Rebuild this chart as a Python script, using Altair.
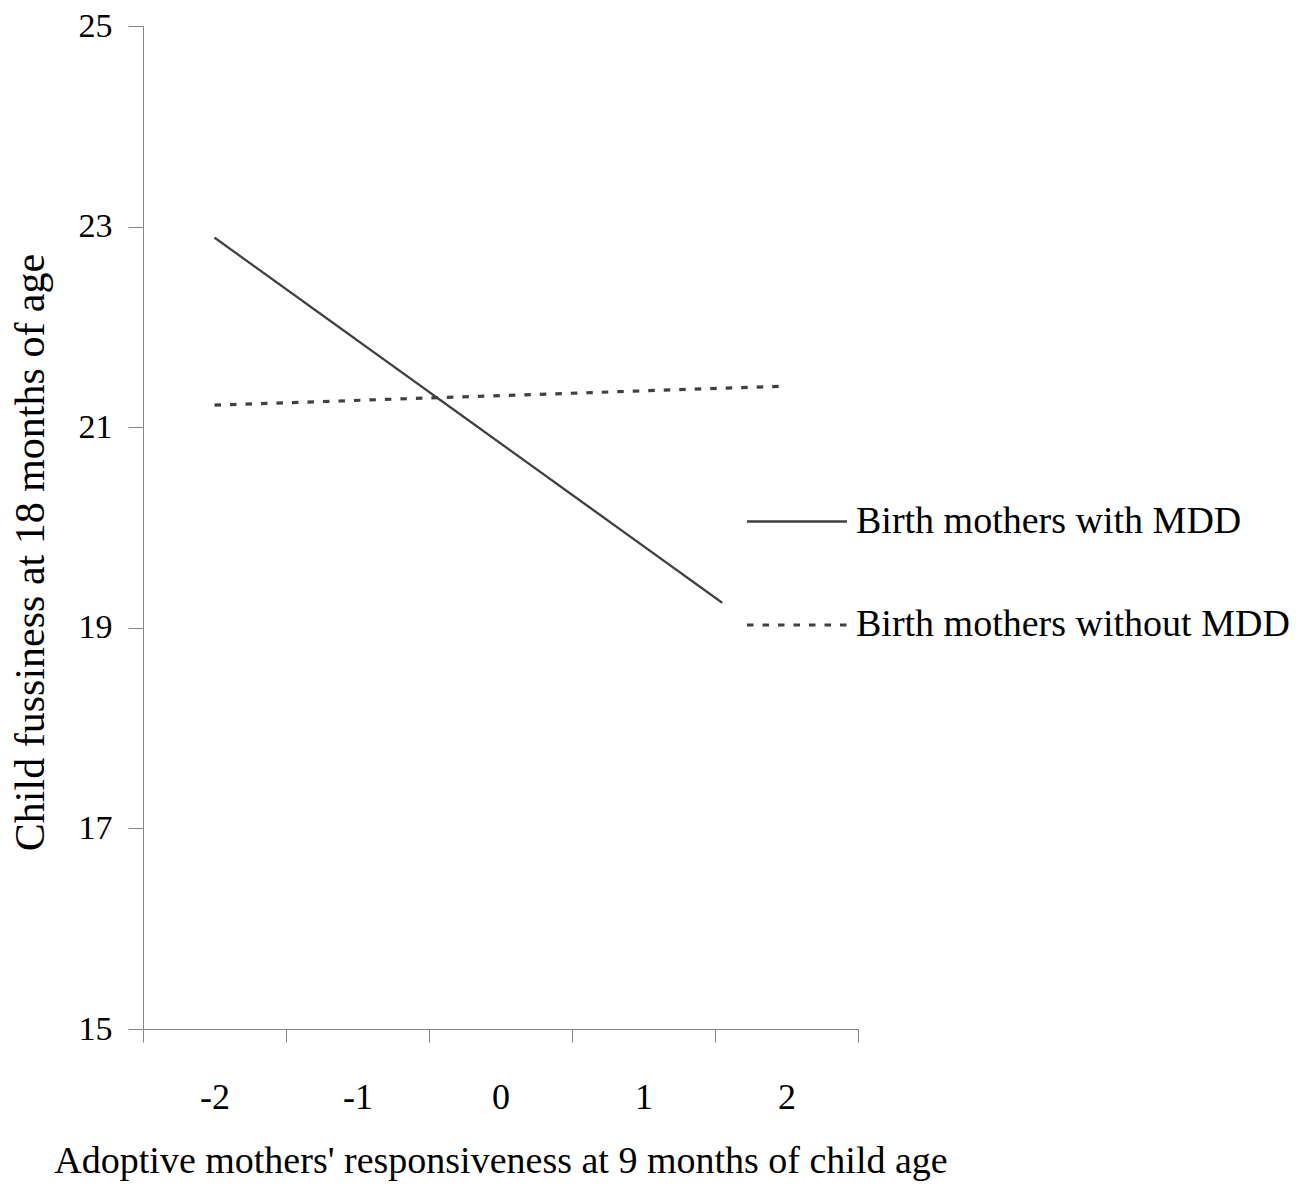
import altair as alt
import pandas as pd

# ---- data ----
series_names = ["Birth mothers with MDD", "Birth mothers without MDD"]
mdd_x = [-2.0, 1.55]
mdd_y = [22.89, 19.25]
no_mdd_x = [-2.0, 2.0]
no_mdd_y = [21.22, 21.41]

x_tick_values = [-2.5, -2, -1.5, -1, -0.5, 0, 0.5, 1, 1.5, 2, 2.5]
y_tick_values = [15, 17, 19, 21, 23, 25]

x_title = "Adoptive mothers' responsiveness at 9 months of child age"
y_title = "Child fussiness at 18 months of age"

df = pd.concat([
    pd.DataFrame({"x": mdd_x, "y": mdd_y, "series": series_names[0]}),
    pd.DataFrame({"x": no_mdd_x, "y": no_mdd_y, "series": series_names[1]}),
], ignore_index=True)

FONT = "Liberation Serif"
LINE = "#404040"
AXIS = "#858585"

half_test = "abs(datum.value % 1) == 0.5"

chart = alt.Chart(df).mark_line(color=LINE).encode(
    x=alt.X(
        "x:Q",
        scale=alt.Scale(domain=[-2.5, 2.5], nice=False, zero=False),
        axis=alt.Axis(
            values=x_tick_values,
            title=x_title,
            labelExpr=f"{half_test} ? '' : toString(datum.value)",
            tickOpacity={"condition": {"test": half_test, "value": 1}, "value": 0},
            tickSize=13,
            tickColor=AXIS,
            domainColor=AXIS,
            grid=False,
            labelFont=FONT,
            labelFontSize=36,
            labelColor="black",
            labelPadding=38,
            labelFlush=False,
            labelOverlap=False,
            titleFont=FONT,
            titleFontSize=38,
            titleFontWeight="normal",
            titleColor="black",
            titlePadding=27,
        ),
    ),
    y=alt.Y(
        "y:Q",
        scale=alt.Scale(domain=[15, 25], nice=False, zero=False),
        axis=alt.Axis(
            values=y_tick_values,
            title=y_title,
            tickSize=15,
            tickColor=AXIS,
            domainColor=AXIS,
            grid=False,
            labelFont=FONT,
            labelFontSize=34,
            labelColor="black",
            labelPadding=16,
            labelFlush=False,
            titleFont=FONT,
            titleFontSize=42,
            titleFontWeight="normal",
            titleColor="black",
            titlePadding=26,
            titleY=526,
        ),
    ),
    strokeDash=alt.StrokeDash(
        "series:N",
        scale=alt.Scale(domain=series_names, range=[[1, 0], [6.5, 9]]),
        legend=alt.Legend(
            orient="none",
            legendX=602,
            legendY=444,
            title=None,
            padding=0,
            symbolType="stroke",
            symbolSize=10000,
            symbolStrokeWidth=2.8,
            symbolStrokeColor=LINE,
            labelFont=FONT,
            labelFontSize=38,
            labelColor="black",
            labelOffset=7,
            rowPadding=32,
            labelLimit=600,
        ),
    ),
    strokeWidth=alt.StrokeWidth(
        "series:N",
        scale=alt.Scale(domain=series_names, range=[2.3, 3.2]),
        legend=None,
    ),
).properties(
    width=715,
    height=1003,
    autosize=alt.AutoSizeParams(type="none"),
    padding={"left": 135, "top": 18, "right": 445, "bottom": 155},
).configure_view(stroke=None)

chart.save("out.html", embed_options={"renderer": "svg", "actions": False})
